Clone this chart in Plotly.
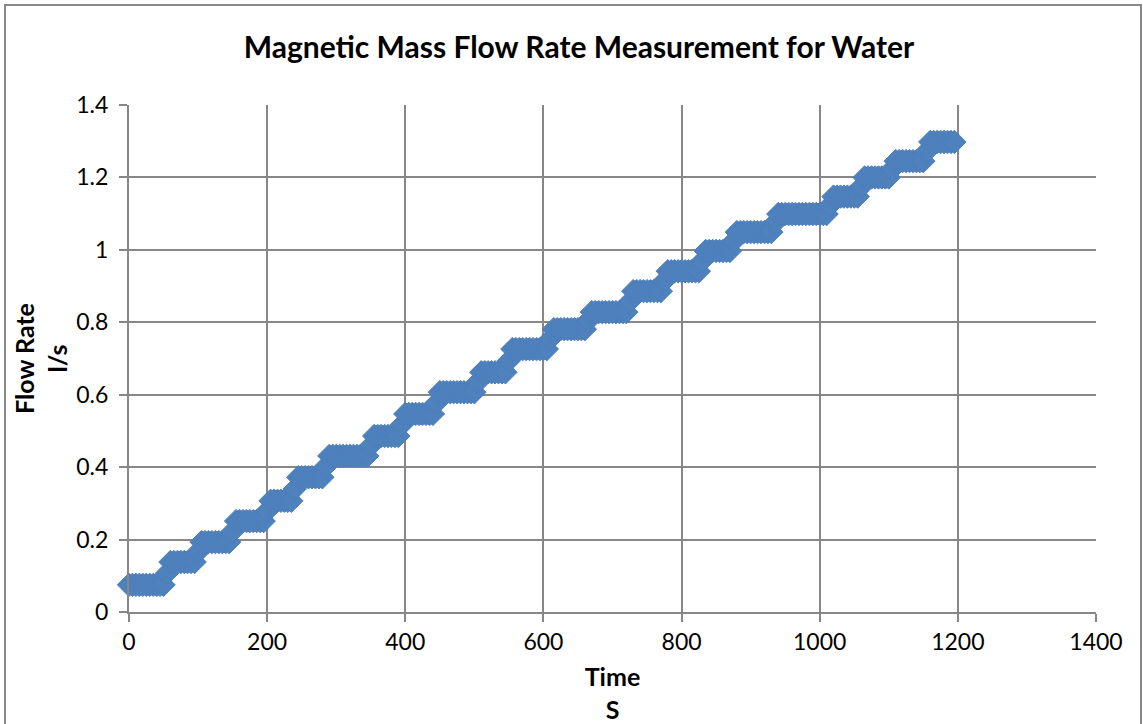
import plotly.graph_objects as go

# Time (s)
time_s = [
    0, 5, 10, 15, 20, 25, 30, 35, 40, 45, 50, 55, 60, 65, 70, 75, 80, 85, 90, 95,
    100, 105, 110, 115, 120, 125, 130, 135, 140, 145, 150, 155, 160, 165, 170, 175, 180, 185, 190, 195,
    200, 205, 210, 215, 220, 225, 230, 235, 240, 245, 250, 255, 260, 265, 270, 275, 280, 285, 290, 295,
    300, 305, 310, 315, 320, 325, 330, 335, 340, 345, 350, 355, 360, 365, 370, 375, 380, 385, 390, 395,
    400, 405, 410, 415, 420, 425, 430, 435, 440, 445, 450, 455, 460, 465, 470, 475, 480, 485, 490, 495,
    500, 505, 510, 515, 520, 525, 530, 535, 540, 545, 550, 555, 560, 565, 570, 575, 580, 585, 590, 595,
    600, 605, 610, 615, 620, 625, 630, 635, 640, 645, 650, 655, 660, 665, 670, 675, 680, 685, 690, 695,
    700, 705, 710, 715, 720, 725, 730, 735, 740, 745, 750, 755, 760, 765, 770, 775, 780, 785, 790, 795,
    800, 805, 810, 815, 820, 825, 830, 835, 840, 845, 850, 855, 860, 865, 870, 875, 880, 885, 890, 895,
    900, 905, 910, 915, 920, 925, 930, 935, 940, 945, 950, 955, 960, 965, 970, 975, 980, 985, 990, 995,
    1000, 1005, 1010, 1015, 1020, 1025, 1030, 1035, 1040, 1045, 1050, 1055, 1060, 1065, 1070, 1075, 1080, 1085, 1090, 1095,
    1100, 1105, 1110, 1115, 1120, 1125, 1130, 1135, 1140, 1145, 1150, 1155, 1160, 1165, 1170, 1175, 1180, 1185, 1190, 1195,
]

# Flow rate (l/s)
flow_rate = [
    0.075, 0.075, 0.075, 0.075, 0.075, 0.075, 0.075, 0.075, 0.075, 0.075, 0.075, 0.107, 0.138, 0.138, 0.138, 0.138, 0.138, 0.138, 0.138, 0.138,
    0.166, 0.193, 0.193, 0.193, 0.193, 0.193, 0.193, 0.193, 0.193, 0.193, 0.222, 0.251, 0.251, 0.251, 0.251, 0.251, 0.251, 0.251, 0.251, 0.251,
    0.279, 0.307, 0.307, 0.307, 0.307, 0.307, 0.307, 0.307, 0.340, 0.372, 0.372, 0.372, 0.372, 0.372, 0.372, 0.372, 0.372, 0.402, 0.431, 0.431,
    0.431, 0.431, 0.431, 0.431, 0.431, 0.431, 0.431, 0.431, 0.431, 0.431, 0.459, 0.486, 0.486, 0.486, 0.486, 0.486, 0.486, 0.486, 0.486, 0.517,
    0.547, 0.547, 0.547, 0.547, 0.547, 0.547, 0.547, 0.547, 0.547, 0.577, 0.607, 0.607, 0.607, 0.607, 0.607, 0.607, 0.607, 0.607, 0.607, 0.607,
    0.607, 0.635, 0.662, 0.662, 0.662, 0.662, 0.662, 0.662, 0.662, 0.662, 0.694, 0.726, 0.726, 0.726, 0.726, 0.726, 0.726, 0.726, 0.726, 0.726,
    0.726, 0.726, 0.754, 0.781, 0.781, 0.781, 0.781, 0.781, 0.781, 0.781, 0.781, 0.781, 0.781, 0.805, 0.828, 0.828, 0.828, 0.828, 0.828, 0.828,
    0.828, 0.828, 0.828, 0.828, 0.828, 0.857, 0.886, 0.886, 0.886, 0.886, 0.886, 0.886, 0.886, 0.886, 0.886, 0.914, 0.941, 0.941, 0.941, 0.941,
    0.941, 0.941, 0.941, 0.941, 0.941, 0.941, 0.969, 0.997, 0.997, 0.997, 0.997, 0.997, 0.997, 0.997, 0.997, 1.023, 1.049, 1.049, 1.049, 1.049,
    1.049, 1.049, 1.049, 1.049, 1.049, 1.049, 1.049, 1.074, 1.099, 1.099, 1.099, 1.099, 1.099, 1.099, 1.099, 1.099, 1.099, 1.099, 1.099, 1.099,
    1.099, 1.099, 1.099, 1.123, 1.147, 1.147, 1.147, 1.147, 1.147, 1.147, 1.147, 1.147, 1.174, 1.200, 1.200, 1.200, 1.200, 1.200, 1.200, 1.200,
    1.200, 1.223, 1.245, 1.245, 1.245, 1.245, 1.245, 1.245, 1.245, 1.245, 1.245, 1.272, 1.298, 1.298, 1.298, 1.298, 1.298, 1.298, 1.298, 1.298,
]

title_text = "Magnetic Mass Flow Rate Measurement for Water"
x_title = "Time<br>S"
y_title = "Flow Rate<br>l/s"

FONT = "Lato"
GRID = "#878787"

fig = go.Figure()
fig.add_trace(go.Scatter(
    x=time_s, y=flow_rate, mode="markers",
    marker=dict(symbol="diamond", size=18, color="#4F81BD",
                line=dict(color="#4A7EBB", width=1)),
    cliponaxis=False, showlegend=False,
))

W, H = 1143, 724
ml, mr, mt, mb = 129, 47, 105, 112
pw, ph = W - ml - mr, H - mt - mb

def px2paper_x(px):
    return (px - ml) / pw

def px2paper_y(py):
    return (H - mb - py) / ph

fig.update_layout(
    width=W, height=H,
    margin=dict(l=ml, r=mr, t=mt, b=mb, pad=0, autoexpand=False),
    paper_bgcolor="white", plot_bgcolor="white",
    font=dict(family=FONT, color="black", size=23),
    title=dict(text="<b>" + title_text + "</b>", x=579 / W, xanchor="center",
               y=1 - 47 / H, yanchor="middle",
               font=dict(family=FONT, size=30, color="black")),
    xaxis=dict(range=[0, 1400], dtick=200, tick0=0, automargin=False,
               showgrid=True, gridcolor=GRID, gridwidth=2,
               showline=True, linecolor=GRID, linewidth=2,
               ticks="outside", ticklen=8, tickwidth=2, tickcolor=GRID,
               zeroline=False,
               tickfont=dict(family=FONT, size=23),
               title=dict(text="<b>" + x_title + "</b>", standoff=16,
                          font=dict(family=FONT, size=25))),
    yaxis=dict(range=[0, 1.4], dtick=0.2, tick0=0, automargin=False,
               showgrid=True, gridcolor=GRID, gridwidth=2,
               showline=True, linecolor=GRID, linewidth=2,
               ticks="outside", ticklen=8, tickwidth=2, tickcolor=GRID,
               ticklabelstandoff=6,
               zeroline=False,
               tickfont=dict(family=FONT, size=23),
               title=dict(text="<b>" + y_title + "</b>", standoff=2,
                          font=dict(family=FONT, size=25))),
    shapes=[dict(type="rect", xref="paper", yref="paper",
                 x0=px2paper_x(5), x1=px2paper_x(1141),
                 y0=px2paper_y(740), y1=px2paper_y(5),
                 line=dict(color="#888888", width=2), fillcolor="rgba(0,0,0,0)",
                 layer="below")],
)

fig.write_html("out.html", config={"displayModeBar": False},
               post_script="document.body.style.margin='0';document.body.style.overflow='hidden';")
